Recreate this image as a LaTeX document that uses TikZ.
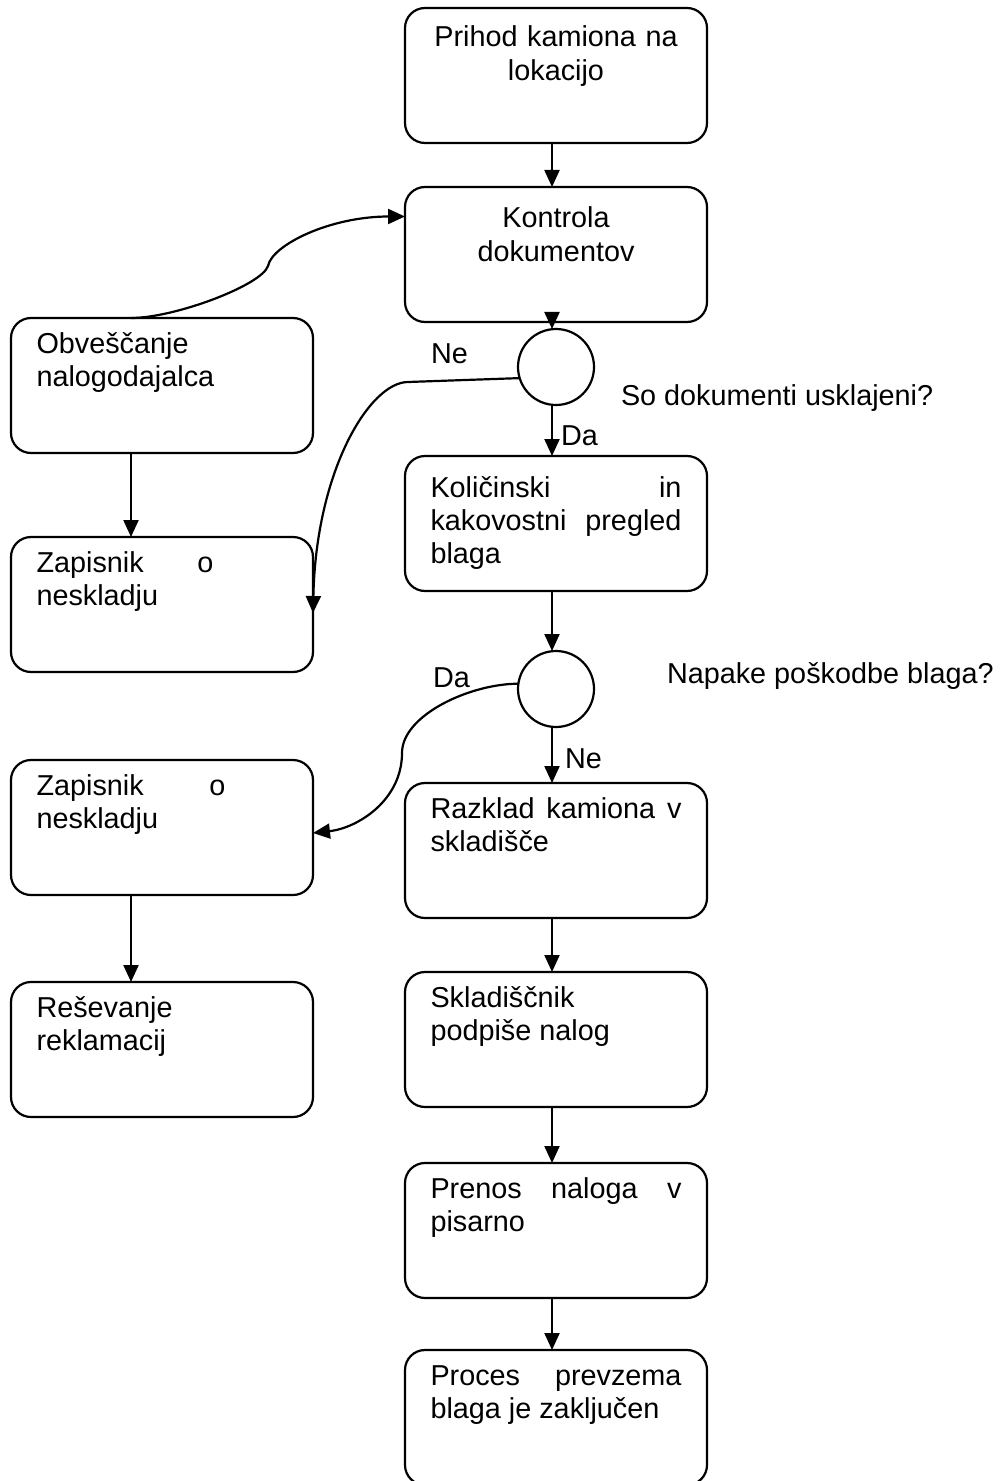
\documentclass[tikz,border=0pt]{standalone}
\usepackage{fontspec}
\setmainfont{Liberation Sans}
\usetikzlibrary{arrows.meta,positioning}
\tolerance=10000
\hbadness=10000

\begin{document}
\begin{tikzpicture}
  [x=1pt,y=1pt,line width=1.1pt,
   >={Triangle[length=8.5pt,width=7.5pt]},
   every node/.style={font=\fontsize{14.4}{16.65}\selectfont,inner sep=0pt,outer sep=0pt},
   stepbox/.style={draw,rounded corners=10pt,text width=125.5pt,inner xsep=12.75pt,
     inner ysep=0pt,text height=17.5pt,text depth=50pt},
   lowtext/.style={text height=20.5pt,text depth=47pt},
   decision/.style={draw,circle,minimum size=38pt},
   answer/.style={anchor=base west}]

  \useasboundingbox (0,0) rectangle (501,-740.5);

  % main flow
  \node (b1) [stepbox,text height=19.5pt,text depth=48pt,align=center,anchor=north] at (278,-4) {Prihod kamiona na\\lokacijo};
  \node (b2) [stepbox,lowtext,align=center,below=22pt of b1] {Kontrola\\dokumentov};
  \node (c1) [decision,below=3.5pt of b2] {};
  \node (b3) [stepbox,lowtext,align=justify,below=25.5pt of c1] {Količinski in\linebreak kakovostni pregled\linebreak blaga};
  \node (c2) [decision,below=30pt of b3] {};
  \node (b4) [stepbox,align=justify,below=28pt of c2] {Razklad kamiona v\linebreak skladišče};
  \node (b5) [stepbox,align=justify,below=27pt of b4] {Skladiščnik\\podpiše nalog};
  \node (b6) [stepbox,align=justify,below=28pt of b5] {Prenos naloga v\linebreak pisarno};
  \node (b7) [stepbox,align=justify,below=26pt of b6] {Proces prevzema\linebreak blaga je zaključen};

  % side branches
  \node (l1) [stepbox,align=left,anchor=north] at (81,-159) {Obveščanje\\nalogodajalca};
  \node (l2) [stepbox,align=left,below=42pt of l1] {\makebox[88.5pt][l]{Zapisnik\hfill o}\\neskladju};
  \node (l3) [stepbox,align=left,below=44pt of l2] {\makebox[94.5pt][l]{Zapisnik\hfill o}\\neskladju};
  \node (l4) [stepbox,align=left,below=43.5pt of l3] {Reševanje\\reklamacij};

  % questions and answers
  \node (ne1) [answer] at ([shift={(-62.5pt,1.5pt)}]c1) {Ne};
  \node (q1) [answer] at ([shift={(32.5pt,-19pt)}]c1) {So dokumenti usklajeni?};
  \node (da1) [answer] at ([shift={(2.5pt,-39pt)}]c1) {Da};
  \node (da2) [answer] at ([shift={(-61.5pt,1pt)}]c2) {Da};
  \node (q2) [answer] at ([shift={(55.5pt,3pt)}]c2) {Napake poškodbe blaga?};
  \node (ne2) [answer] at ([shift={(4.5pt,-39.5pt)}]c2) {Ne};

  \coordinate (k1) at (134,-133);
  \coordinate (k2) at (204,-191);
  \coordinate (k3) at (201,-376.5);

\path [->] ([xshift=-2pt]b1.south) edge ([xshift=-2pt]b2.north) ([xshift=-2pt]b2.south) edge ([xshift=-2pt]c1.north) ([xshift=-2pt]c1.south) edge ([xshift=-2pt]b3.north) ([xshift=-2pt]b3.south) edge ([xshift=-2pt]c2.north) ([xshift=-2pt]c2.south) edge ([xshift=-2pt]b4.north) ([xshift=-2pt]b4.south) edge ([xshift=-2pt]b5.north) ([xshift=-2pt]b5.south) edge ([xshift=-2pt]b6.north) ([xshift=-2pt]b6.south) edge ([xshift=-2pt]b7.north);
\path [->] ([xshift=-15.5pt]l1.south) edge ([xshift=-15.5pt]l2.north) ([xshift=-15.5pt]l3.south) edge ([xshift=-15.5pt]l4.north);

\draw [->] ([xshift=-15.5pt]l1.north) .. controls +(22pt,0) and +(-3pt,-9.5pt) .. (k1)
  .. controls +(2pt,10.5pt) and +(-37.5pt,0) .. ([yshift=19pt]b2.west);
\draw [->] (c1.197) -- (k2) .. controls +(-19pt,0) and +(1.5pt,71.5pt) .. ([yshift=-4.25pt]l2.east);
\draw [->] (c2.172) .. controls +(-24pt,0) and +(0,19pt) .. (k3)
  .. controls +(0,-23.5pt) and +(22.5pt,2.5pt) .. ([yshift=-2.75pt]l3.east);
\end{tikzpicture}
\end{document}
